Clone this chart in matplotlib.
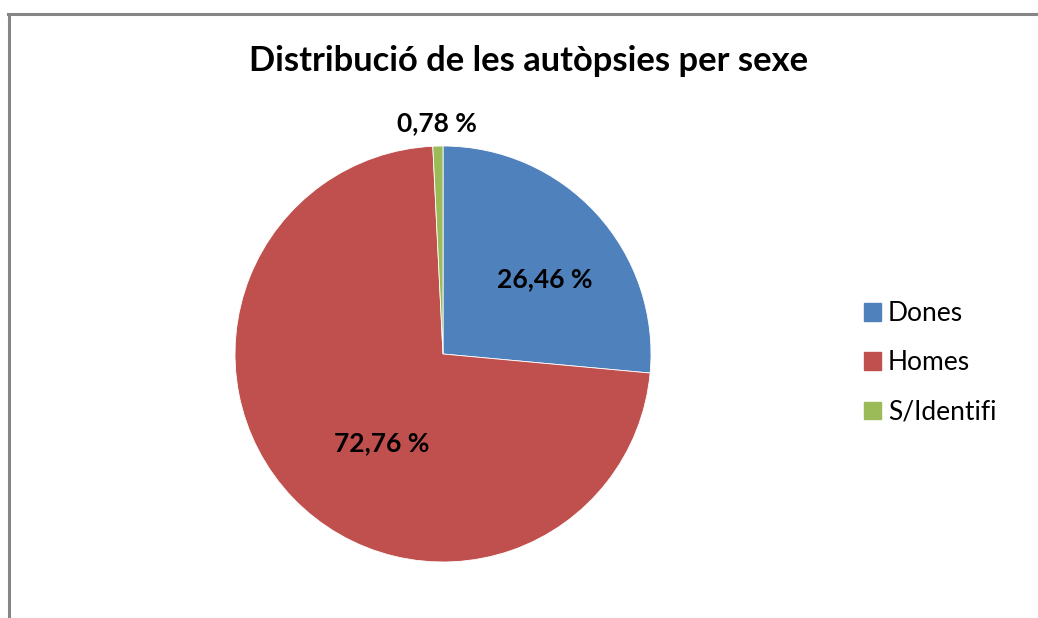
import numpy as np
import matplotlib.pyplot as plt
from matplotlib.lines import Line2D

# Data
categories = ["Dones", "Homes", "S/Identifi"]
percentages = [26.46, 72.76, 0.78]
colors = ["#4F81BD", "#C0504D", "#9BBB59"]

# label placement style (distance from centre, angular nudge in degrees)
label_dist = [0.61, 0.52, 1.11]
label_nudge = [-6, 12, 0]

plt.rcParams['font.family'] = ['Lato', 'DejaVu Sans']

W, H = 1038, 618
fig = plt.figure(figsize=(W / 100, H / 100), dpi=100)

# grey chart frame (cropped at right and bottom like the reference)
fig.add_artist(Line2D([9 / W, 9 / W], [0, 1 - 13.5 / H], color="#868686", lw=2.2))
fig.add_artist(Line2D([8 / W, 1.0], [1 - 13.5 / H, 1 - 13.5 / H], color="#868686", lw=2.2))

fig.text(529 / W, 1 - 61 / H, "Distribució de les autòpsies per sexe",
         ha="center", va="center", fontsize=24.8, fontweight="bold")

# pie axes: centre (443, 354), radius 208 px
r = 208
ax = fig.add_axes([(443 - r) / W, (H - 354 - r) / H, 2 * r / W, 2 * r / H])
wedges, _ = ax.pie(percentages, colors=colors, startangle=90, counterclock=False,
                   wedgeprops=dict(edgecolor="white", linewidth=0.6))
ax.set_xlim(-1, 1)
ax.set_ylim(-1, 1)
ax.set_aspect("equal")
ax.axis("off")

for w, p, d, n in zip(wedges, percentages, label_dist, label_nudge):
    ang = np.deg2rad((w.theta1 + w.theta2) / 2 + n)
    txt = f"{p:.2f}".replace(".", ",") + " %"
    ax.text(d * np.cos(ang), d * np.sin(ang), txt, ha="center", va="center",
            fontsize=19, fontweight="bold", clip_on=False)

handles = [plt.Rectangle((0, 0), 1, 1, color=c) for c in colors]
fig.legend(handles, categories, loc="center left", bbox_to_anchor=(840 / W, 1 - 363 / H),
           frameon=False, fontsize=19, handlelength=0.66, handleheight=0.66,
           handletextpad=0.25, labelspacing=0.92)

fig.savefig("out.png", dpi=100, facecolor="white")
